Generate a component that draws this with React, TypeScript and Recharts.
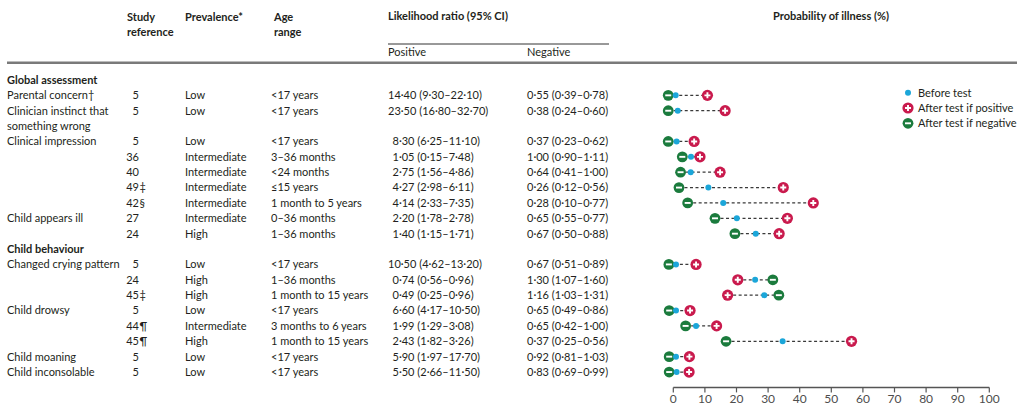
import React from "react";
import { ScatterChart, Scatter, XAxis, YAxis, ReferenceLine } from "recharts";

// ---------- data ----------
const sections = ["Global assessment", "Child behaviour"];
const rowSection = [0, 0, 0, 0, 0, 0, 0, 0, 0, 1, 1, 1, 1, 1, 1, 1, 1];
const rowLabels = [
  "Parental concern†",
  "Clinician instinct that\nsomething wrong",
  "Clinical impression",
  "",
  "",
  "",
  "",
  "Child appears ill",
  "",
  "Changed crying pattern",
  "",
  "",
  "Child drowsy",
  "",
  "",
  "Child moaning",
  "Child inconsolable",
];
const studyRefs = ["5", "5", "5", "36", "40", "49‡", "42§", "27", "24", "5", "24", "45‡", "5", "44¶", "45¶", "5", "5"];
const prevalence = [
  "Low", "Low", "Low", "Intermediate", "Intermediate", "Intermediate", "Intermediate", "Intermediate", "High",
  "Low", "High", "High", "Low", "Intermediate", "High", "Low", "Low",
];
const ageRange = [
  "<17 years", "<17 years", "<17 years", "3–36 months", "<24 months", "≤15 years", "1 month to 5 years",
  "0–36 months", "1–36 months", "<17 years", "1–36 months", "1 month to 15 years", "<17 years",
  "3 months to 6 years", "1 month to 15 years", "<17 years", "<17 years",
];
const lrPositive = [
  "14·40 (9·30–22·10)", "23·50 (16·80–32·70)", "8·30 (6·25–11·10)", "1·05 (0·15–7·48)", "2·75 (1·56–4·86)",
  "4·27 (2·98–6·11)", "4·14 (2·33–7·35)", "2·20 (1·78–2·78)", "1·40 (1·15–1·71)", "10·50 (4·62–13·20)",
  "0·74 (0·56–0·96)", "0·49 (0·25–0·96)", "6·60 (4·17–10·50)", "1·99 (1·29–3·08)", "2·43 (1·82–3·26)",
  "5·90 (1·97–17·70)", "5·50 (2·66–11·50)",
];
const lrNegative = [
  "0·55 (0·39–0·78)", "0·38 (0·24–0·60)", "0·37 (0·23–0·62)", "1·00 (0·90–1·11)", "0·64 (0·41–1·00)",
  "0·26 (0·12–0·56)", "0·28 (0·10–0·77)", "0·65 (0·55–0·77)", "0·67 (0·50–0·88)", "0·67 (0·51–0·89)",
  "1·30 (1·07–1·60)", "1·16 (1·03–1·31)", "0·65 (0·49–0·86)", "0·65 (0·42–1·00)", "0·37 (0·25–0·56)",
  "0·92 (0·81–1·03)", "0·83 (0·69–0·99)",
];
const beforeTest = [0.75, 1.4, 1.05, 5.6, 5.5, 11.1, 15.8, 20.1, 26.1, 0.85, 25.9, 28.8, 0.85, 7.2, 34.6, 0.85, 1.05];
const afterPositive = [10.8, 16.4, 6.6, 8.45, 14.8, 34.8, 44.3, 36.1, 33.5, 7.2, 20.4, 17.2, 5.3, 13.7, 56.4, 5.1, 5.0];
const afterNegative = [-1.6, -1.6, -1.6, 2.85, 2.3, 1.8, 4.55, 13.2, 19.5, -1.4, 31.5, 33.4, -1.3, 3.9, 16.7, -1.3, -1.3];
const xTicks = [0, 10, 20, 30, 40, 50, 60, 70, 80, 90, 100];
const legendLabels = ["Before test", "After test if positive", "After test if negative"];

// ---------- layout ----------
const W = 1024;
const H = 411;
const PLOT_TOP = 64.6;
const PLOT_BOTTOM = 387.4;
const Y_MIN = -1;
const Y_MAX = 20;
const X_MIN = -5;
const X_MAX = 100;
const PX_PER_UNIT = 3.16;
const PLOT_RIGHT = 989.3;
const PLOT_LEFT = PLOT_RIGHT - (X_MAX - X_MIN) * PX_PER_UNIT;
const lineStep = (PLOT_BOTTOM - PLOT_TOP) / (Y_MAX - Y_MIN);
const lineY = (l: number) => PLOT_TOP + (l - Y_MIN) * lineStep;

const FONT = "Lato, 'Noto Sans', sans-serif";
const TEXT = "#231f20";

// compute table lines
const headerLines: { text: string; line: number }[] = [];
const rowLine: number[] = [];
{
  let l = 0;
  let prev = -1;
  rowSection.forEach((s, i) => {
    if (s !== prev) {
      headerLines.push({ text: sections[s], line: l });
      l++;
      prev = s;
    }
    rowLine[i] = l;
    l += rowLabels[i].split("\n").length;
  });
}

const beforeData = beforeTest.map((v, i) => ({ x: v, y: rowLine[i] }));
const posData = afterPositive.map((v, i) => ({ x: v, y: rowLine[i] }));
const negData = afterNegative.map((v, i) => ({ x: v, y: rowLine[i] }));

// ---------- markers ----------
const BLUE = "#1ba6d9";
const RED = "#c91a4d";
const GREEN = "#1b7b3d";

const BeforeMarker = (p: any) => <circle cx={p.cx} cy={p.cy} r={3} fill={BLUE} />;
const PositiveMarker = (p: any) => (
  <g>
    <circle cx={p.cx} cy={p.cy} r={5.6} fill={RED} />
    <path
      d={`M${p.cx - 3} ${p.cy}H${p.cx + 3}M${p.cx} ${p.cy - 3}V${p.cy + 3}`}
      stroke="#fff"
      strokeWidth={1.9}
    />
  </g>
);
const NegativeMarker = (p: any) => (
  <g>
    <circle cx={p.cx} cy={p.cy} r={5.4} fill={GREEN} />
    <path d={`M${p.cx - 3} ${p.cy}H${p.cx + 3}`} stroke="#fff" strokeWidth={1.9} />
  </g>
);

const T = (props: any) => (
  <text fontFamily={FONT} fontSize={11} fill={TEXT} dy="0.35em" {...props} />
);

function Table() {
  return (
    <svg
      width={W}
      height={H}
      style={{ position: "absolute", left: 0, top: 0, pointerEvents: "none" }}
    >
      {/* header */}
      <T x={127} y={17} fontWeight={700}>Study</T>
      <T x={127} y={32} fontWeight={700}>reference</T>
      <T x={185} y={17} fontWeight={700}>Prevalence*</T>
      <T x={274} y={17} fontWeight={700}>Age</T>
      <T x={274} y={32} fontWeight={700}>range</T>
      <T x={388} y={16} fontWeight={700}>Likelihood ratio (95% CI)</T>
      <line x1={388} x2={609} y1={44} y2={44} stroke="#333" strokeWidth={1} />
      <T x={388} y={52}>Positive</T>
      <T x={527} y={52}>Negative</T>
      <T x={773} y={16} fontWeight={700}>Probability of illness (%)</T>
      <line x1={7} x2={1017} y1={62.7} y2={62.7} stroke="#7a7a7a" strokeWidth={2.5} />

      {headerLines.map((h) => (
        <T key={h.text} x={7} y={lineY(h.line)} fontWeight={700}>
          {h.text}
        </T>
      ))}
      {rowLabels.map((lab, i) =>
        lab.split("\n").map((part, k) => (
          <T key={`l${i}-${k}`} x={7} y={lineY(rowLine[i] + k)}>
            {part}
          </T>
        ))
      )}
      {studyRefs.map((r, i) => {
        const m = r.match(/^(\d+)(.*)$/) || ["", r, ""];
        return (
          <g key={`s${i}`}>
            <T x={139} y={lineY(rowLine[i])} textAnchor="end">{m[1]}</T>
            {m[2] ? <T x={139.5} y={lineY(rowLine[i])}>{m[2]}</T> : null}
          </g>
        );
      })}
      {prevalence.map((p, i) => (
        <T key={`p${i}`} x={185} y={lineY(rowLine[i])}>{p}</T>
      ))}
      {ageRange.map((a, i) => (
        <T key={`a${i}`} x={271} y={lineY(rowLine[i])}>{a}</T>
      ))}
      {lrPositive.map((s, i) => (
        <T key={`lp${i}`} x={388 + (s.indexOf("·") === 1 ? 4.5 : 0)} y={lineY(rowLine[i])}>{s}</T>
      ))}
      {lrNegative.map((s, i) => (
        <T key={`ln${i}`} x={527} y={lineY(rowLine[i])}>{s}</T>
      ))}

      {/* legend */}
      {legendLabels.map((lab, i) => {
        const cy = 92.7 + i * 15.3;
        const cx = 908;
        return (
          <g key={lab}>
            {i === 0 ? <BeforeMarker cx={cx} cy={cy} /> : i === 1 ? <PositiveMarker cx={cx} cy={cy} /> : <NegativeMarker cx={cx} cy={cy} />}
            <T x={918} y={cy}>{lab}</T>
          </g>
        );
      })}
    </svg>
  );
}

export default function App() {
  return (
    <div style={{ position: "absolute", left: 0, top: 0, width: W, height: H, background: "#fff" }}>
      <div style={{ position: "absolute", left: 0, top: 0 }}>
        <ScatterChart
          width={W}
          height={H}
          margin={{ top: PLOT_TOP, right: W - PLOT_RIGHT, bottom: 0, left: PLOT_LEFT }}
        >
          <XAxis
            type="number"
            dataKey="x"
            domain={[X_MIN, X_MAX]}
            ticks={xTicks}
            height={H - PLOT_BOTTOM}
            axisLine={false}
            tickLine={{ stroke: "#555", strokeWidth: 1.2 }}
            tickSize={5}
            tick={{ fontSize: 12, fill: "#4d4d4d", fontFamily: FONT }}
            interval={0}
          />
          <YAxis type="number" dataKey="y" domain={[Y_MIN, Y_MAX]} reversed hide width={0} />
          <ReferenceLine
            segment={[{ x: 0, y: Y_MAX }, { x: 100, y: Y_MAX }]}
            stroke="#555"
            strokeWidth={1.5}
            ifOverflow="visible"
          />
          {rowLine.map((l, i) => {
            const lo = Math.min(beforeTest[i], afterPositive[i], afterNegative[i]);
            const hi = Math.max(beforeTest[i], afterPositive[i], afterNegative[i]);
            return (
              <ReferenceLine
                key={`seg${i}`}
                segment={[{ x: lo, y: l }, { x: hi, y: l }]}
                stroke="#3a3a3a"
                strokeWidth={1.2}
                strokeDasharray="3 2.5"
                ifOverflow="visible"
              />
            );
          })}
          <Scatter data={negData} isAnimationActive={false} shape={(p: any) => <NegativeMarker {...p} />} />
          <Scatter data={posData} isAnimationActive={false} shape={(p: any) => <PositiveMarker {...p} />} />
          <Scatter data={beforeData} isAnimationActive={false} shape={(p: any) => <BeforeMarker {...p} />} />
        </ScatterChart>
      </div>
      <Table />
    </div>
  );
}
